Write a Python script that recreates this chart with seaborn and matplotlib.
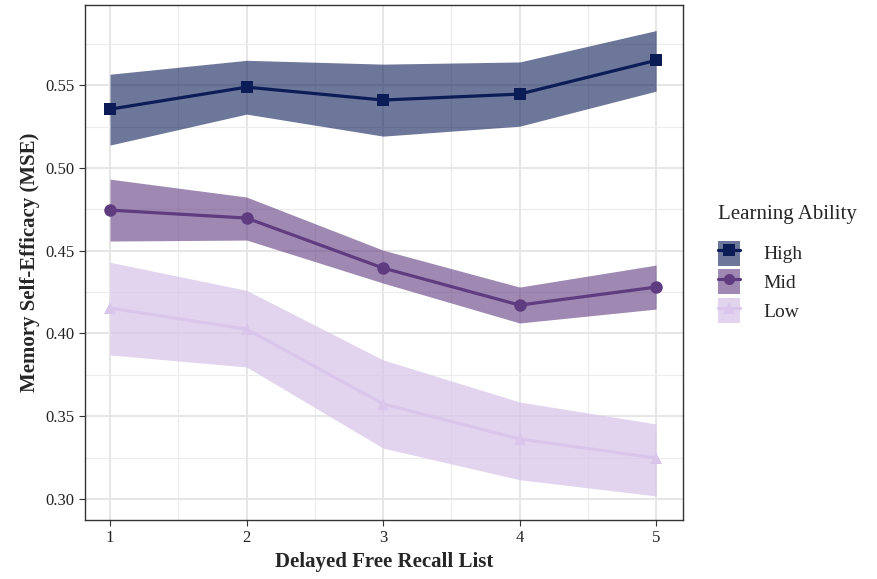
import matplotlib
matplotlib.use("Agg")
import matplotlib.pyplot as plt
import numpy as np
import pandas as pd
import seaborn as sns
from matplotlib.lines import Line2D
from matplotlib.patches import Patch
from matplotlib.ticker import MultipleLocator

# ─────────────────────────────────────────────────────────────────
# Data
# ─────────────────────────────────────────────────────────────────
lists = [1, 2, 3, 4, 5]
groups = ["High", "Mid", "Low"]

high_mean = [0.5355, 0.5488, 0.5410, 0.5446, 0.5650]
high_lo = [0.5138, 0.5325, 0.5192, 0.5252, 0.5464]
high_hi = [0.5566, 0.5650, 0.5627, 0.5640, 0.5830]

mid_mean = [0.4745, 0.4697, 0.4395, 0.4171, 0.4280]
mid_lo = [0.4558, 0.4564, 0.4304, 0.4063, 0.4147]
mid_hi = [0.4932, 0.4824, 0.4503, 0.4280, 0.4413]

low_mean = [0.4153, 0.4026, 0.3574, 0.3362, 0.3247]
low_lo = [0.3870, 0.3797, 0.3307, 0.3116, 0.3018]
low_hi = [0.4430, 0.4260, 0.3840, 0.3586, 0.3453]

line_colors = {"High": "#0c1c56", "Mid": "#5f3b80", "Low": "#d9c6ea"}
band_alpha = {"High": 0.6, "Mid": 0.6, "Low": 0.75}
markers = {"High": "s", "Mid": "o", "Low": "^"}

df = pd.DataFrame({
    "list": lists * 3,
    "group": ["High"] * 5 + ["Mid"] * 5 + ["Low"] * 5,
    "mse": high_mean + mid_mean + low_mean,
    "lo": high_lo + mid_lo + low_lo,
    "hi": high_hi + mid_hi + low_hi,
})

# ─────────────────────────────────────────────────────────────────
# Plot
# ─────────────────────────────────────────────────────────────────
sns.set_theme(style="white")
plt.rcParams["font.family"] = ["Liberation Serif", "DejaVu Serif"]

fig = plt.figure(figsize=(8.77, 5.79), dpi=100)
ax = fig.add_axes([0.097, 0.102, 0.682, 0.889])

for g in groups:
    sub = df[df["group"] == g]
    ax.fill_between(sub["list"], sub["lo"], sub["hi"],
                    color=line_colors[g], alpha=band_alpha[g],
                    linewidth=0, zorder=2)

sns.lineplot(data=df, x="list", y="mse", hue="group", style="group",
             hue_order=groups, style_order=groups,
             palette=line_colors, markers=markers, dashes=False,
             linewidth=2.3, markersize=9, markeredgewidth=0,
             legend=False, ax=ax, zorder=3)

ax.set_xlim(0.817, 5.198)
ax.set_ylim(0.2873, 0.5983)
ax.xaxis.set_major_locator(MultipleLocator(1))
ax.xaxis.set_minor_locator(MultipleLocator(0.5))
ax.yaxis.set_major_locator(MultipleLocator(0.05))
ax.yaxis.set_minor_locator(MultipleLocator(0.025))
ax.yaxis.set_major_formatter(matplotlib.ticker.FormatStrFormatter("%.2f"))

ax.grid(which="major", color="#e6e6e6", linewidth=1.4, zorder=0)
ax.grid(which="minor", color="#ececec", linewidth=0.8, zorder=0)
ax.set_axisbelow(True)
for s in ax.spines.values():
    s.set_color("#333333")
    s.set_linewidth(1.0)

ax.tick_params(axis="both", which="major", length=4, width=0.8,
               color="#333333", labelsize=12, labelcolor="#222222",
               bottom=True, left=True)
ax.tick_params(axis="both", which="minor", length=0)

ax.set_xlabel("Delayed Free Recall List", fontsize=15, fontweight="bold")
ax.set_ylabel("Memory Self-Efficacy (MSE)", fontsize=15, fontweight="bold")

handles = []
for g in groups:
    patch = Patch(facecolor=line_colors[g], alpha=band_alpha[g], edgecolor="none")
    ln = Line2D([], [], color=line_colors[g], marker=markers[g],
                markersize=8, linewidth=2.3, markeredgewidth=0)
    handles.append((patch, ln))

fig.text(0.819, 0.629, "Learning Ability", fontsize=15, va="center", ha="left")
fig.legend(handles, groups,
           loc="center left", bbox_to_anchor=(0.819, 0.513),
           frameon=False, fontsize=14,
           handlelength=1.1, handleheight=1.6, handletextpad=1.2,
           labelspacing=0.2, borderpad=0.0, borderaxespad=0.0)

fig.savefig("out.png", dpi=100)
